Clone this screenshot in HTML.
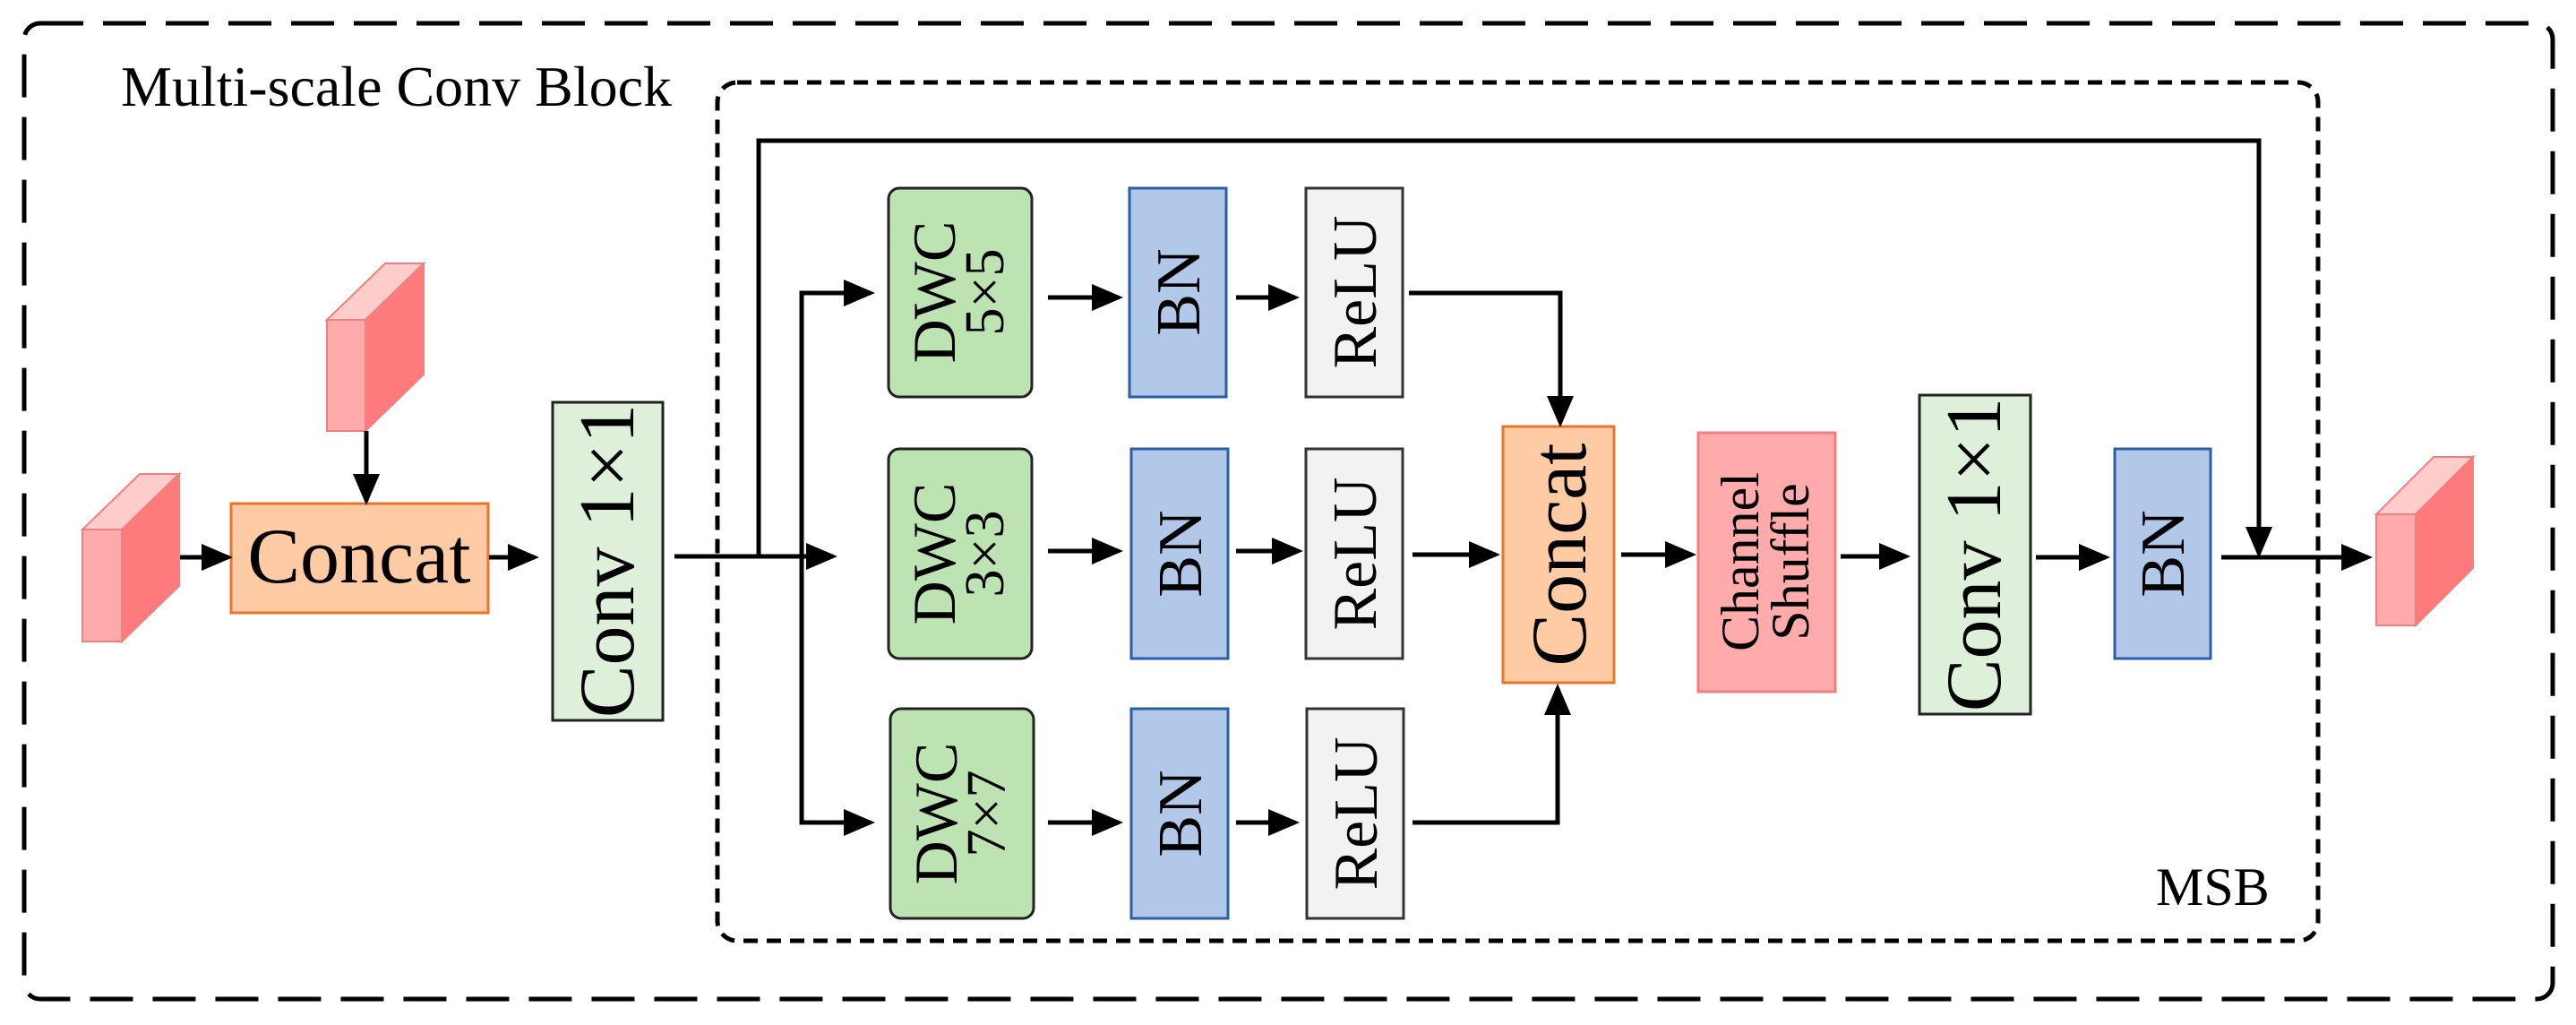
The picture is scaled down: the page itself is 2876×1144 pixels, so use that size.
<!DOCTYPE html>
<html><head><meta charset="utf-8"><style>html,body{margin:0;padding:0;background:#fff}svg{display:block}text{font-family:"Liberation Serif","Times New Roman",serif}</style></head>
<body>
<svg width="2876" height="1144" viewBox="0 0 2876 1144" xmlns="http://www.w3.org/2000/svg">
<defs>
<marker id="a" markerWidth="7" markerHeight="6" refX="6" refY="3" orient="auto" markerUnits="strokeWidth"><path d="M0,0 L7,3 L0,6 z" fill="#000"/></marker>
</defs>
<rect x="27" y="26" width="2823" height="1089" rx="18" fill="none" stroke="#000" stroke-width="5" stroke-dasharray="48 22"/>
<rect x="801" y="92" width="1787" height="958" rx="22" fill="none" stroke="#000" stroke-width="5" stroke-dasharray="16 10"/>
<text x="135" y="118" font-size="64">Multi-scale Conv Block</text>
<text x="2407" y="1010" font-size="60">MSB</text>

<g stroke="#f08080" stroke-width="2">
<polygon points="92,591 156,529 200,529 136,591" fill="#ffcccc"/>
<polygon points="136,591 200,529 200,654 136,716" fill="#ff7a7a"/>
<rect x="92" y="591" width="44" height="125" fill="#ffabab"/>
<polygon points="365,357 430,294 473,294 408,357" fill="#ffcccc"/>
<polygon points="408,357 473,294 473,418 408,481" fill="#ff7a7a"/>
<rect x="365" y="357" width="43" height="124" fill="#ffabab"/>
<polygon points="2653,574 2717,510 2761,510 2697,574" fill="#ffcccc"/>
<polygon points="2697,574 2761,510 2761,634 2697,698" fill="#ff7a7a"/>
<rect x="2653" y="574" width="44" height="124" fill="#ffabab"/>
</g>

<rect x="258" y="562" width="287" height="122" fill="#ffcba4" stroke="#e8752a" stroke-width="3"/>
<text x="401" y="650" font-size="88" text-anchor="middle">Concat</text>
<rect x="617" y="449" width="123" height="355" fill="#dff0da" stroke="#222" stroke-width="3"/>
<text transform="translate(707,626) rotate(-90)" font-size="88" text-anchor="middle">Conv 1×1</text>

<g stroke="#222" stroke-width="3" fill="#bde3b3">
<rect x="992" y="210" width="160" height="233" rx="12"/>
<rect x="992" y="501" width="160" height="234" rx="12"/>
<rect x="994" y="791" width="160" height="234" rx="12"/>
</g>
<g font-size="68" text-anchor="middle">
<text transform="translate(1066,326) rotate(-90)">DWC</text>
<text transform="translate(1120,326) rotate(-90)" font-size="62">5×5</text>
<text transform="translate(1066,618) rotate(-90)">DWC</text>
<text transform="translate(1120,618) rotate(-90)" font-size="62">3×3</text>
<text transform="translate(1068,908) rotate(-90)">DWC</text>
<text transform="translate(1122,908) rotate(-90)" font-size="62">7×7</text>
</g>
<g stroke="#2a5ea8" stroke-width="3" fill="#b1c8e8">
<rect x="1261" y="210" width="108" height="233"/>
<rect x="1263" y="501" width="108" height="234"/>
<rect x="1263" y="791" width="108" height="234"/>
<rect x="2361" y="501" width="107" height="234"/>
</g>
<g stroke="#333" stroke-width="3" fill="#f2f2f2">
<rect x="1458" y="210" width="108" height="233"/>
<rect x="1458" y="501" width="108" height="234"/>
<rect x="1459" y="791" width="108" height="234"/>
</g>
<g font-size="70" text-anchor="middle">
<text transform="translate(1339,326) rotate(-90)">BN</text>
<text transform="translate(1341,618) rotate(-90)">BN</text>
<text transform="translate(1341,908) rotate(-90)">BN</text>
<text transform="translate(2438,618) rotate(-90)">BN</text>
<text transform="translate(1536,326) rotate(-90)">ReLU</text>
<text transform="translate(1536,618) rotate(-90)">ReLU</text>
<text transform="translate(1537,908) rotate(-90)">ReLU</text>
</g>
<rect x="1678" y="476" width="124" height="286" fill="#ffcba4" stroke="#e8752a" stroke-width="3"/>
<text transform="translate(1770,619) rotate(-90)" font-size="88" text-anchor="middle">Concat</text>
<rect x="1896" y="483" width="153" height="289" fill="#ffabab" stroke="#f08080" stroke-width="3"/>
<text transform="translate(1963,627) rotate(-90)" font-size="60" text-anchor="middle">Channel</text>
<text transform="translate(2019,627) rotate(-90)" font-size="60" text-anchor="middle">Shuffle</text>
<rect x="2143" y="441" width="124" height="356" fill="#dff0da" stroke="#222" stroke-width="3"/>
<text transform="translate(2233,619) rotate(-90)" font-size="88" text-anchor="middle">Conv 1×1</text>

<g stroke="#000" stroke-width="5" fill="none" marker-end="url(#a)">
<line x1="201" y1="622" x2="255" y2="622"/>
<line x1="409" y1="481" x2="409" y2="559"/>
<line x1="546" y1="622" x2="597" y2="622"/>
<line x1="753" y1="621" x2="930" y2="621"/>
<polyline points="918,327 895,327 895,918 918,918" marker-end="none"/>
<line x1="895" y1="327" x2="972" y2="327"/>
<line x1="895" y1="918" x2="972" y2="918"/>
<line x1="1170" y1="332" x2="1249" y2="332"/>
<line x1="1170" y1="615" x2="1249" y2="615"/>
<line x1="1170" y1="918" x2="1249" y2="918"/>
<line x1="1380" y1="332" x2="1446" y2="332"/>
<line x1="1380" y1="615" x2="1450" y2="615"/>
<line x1="1380" y1="918" x2="1446" y2="918"/>
<polyline points="1573,327 1742,327 1742,472"/>
<line x1="1577" y1="619" x2="1670" y2="619"/>
<polyline points="1577,918 1739,918 1739,768"/>
<line x1="1810" y1="619" x2="1889" y2="619"/>
<line x1="2055" y1="621" x2="2128" y2="621"/>
<line x1="2273" y1="622" x2="2351" y2="622"/>
<line x1="2480" y1="622" x2="2644" y2="622"/>
<polyline points="847,621 847,157 2522,157 2522,618"/>
</g>
</svg>
</body></html>
